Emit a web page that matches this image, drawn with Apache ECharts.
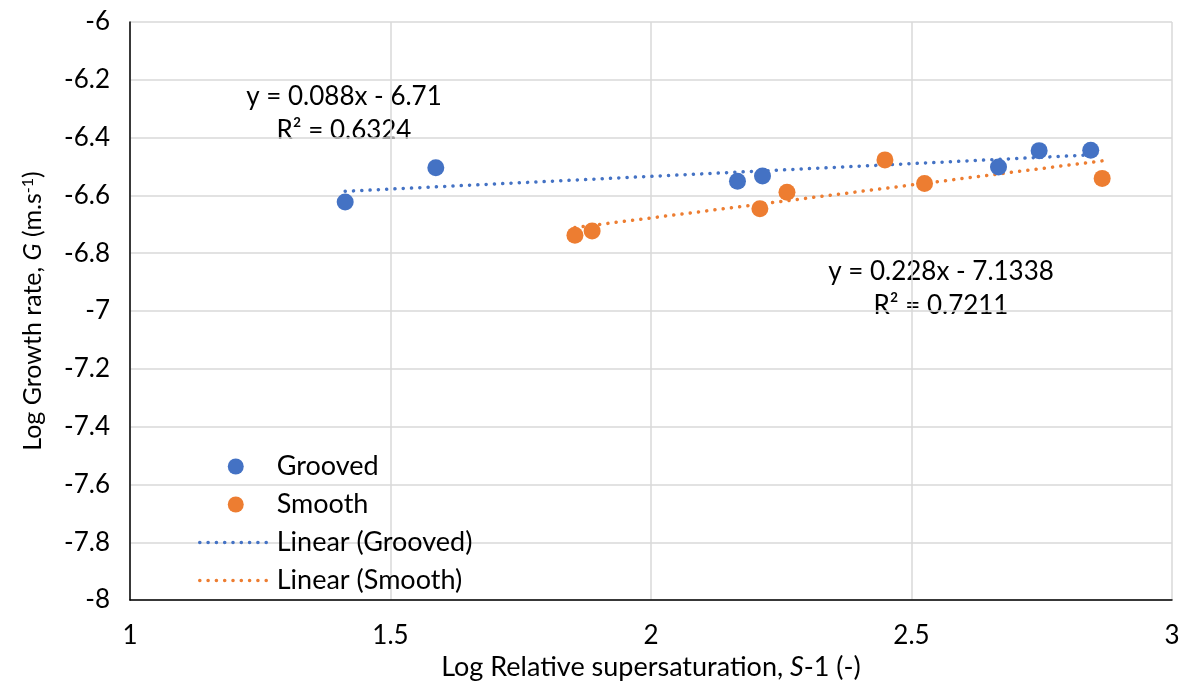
<!DOCTYPE html>
<html>
<head>
<meta charset="utf-8">
<title>Growth rate vs relative supersaturation</title>
<script src="https://cdn.jsdelivr.net/npm/echarts@6/dist/echarts.min.js"></script>
<style>
  html, body { margin: 0; padding: 0; background: #fff; }
  #chart { width: 1188px; height: 686px; }
</style>
</head>
<body>
<div id="chart"></div>
<script>
// Log relative supersaturation (x) and log growth rate (y) per surface type
const groovedX = [1.413, 1.587, 2.166, 2.214, 2.667, 2.745, 2.844];
const groovedY = [-6.623, -6.504, -6.551, -6.533, -6.502, -6.445, -6.444];
const smoothX = [1.854, 1.887, 2.209, 2.261, 2.449, 2.525, 2.866];
const smoothY = [-6.738, -6.723, -6.646, -6.589, -6.477, -6.559, -6.541];

// Linear fit coefficients shown in the equation labels
const groovedFit = { slope: 0.088, intercept: -6.71, r2: 0.6324 };
const smoothFit = { slope: 0.228, intercept: -7.1338, r2: 0.7211 };

const xTicks = { min: 1, max: 3, interval: 0.5 };
const yTicks = { min: -8, max: -6, interval: 0.2 };

const BLUE = '#4472C4';
const ORANGE = '#ED7D31';
const FONT = 'Lato';

function pairs(xs, ys) {
  return xs.map((x, i) => [x, ys[i]]);
}

// Trendline spans the range of the fitted x values
function fitLine(xs, fit) {
  const lo = Math.min(...xs), hi = Math.max(...xs);
  return [[lo, fit.slope * lo + fit.intercept], [hi, fit.slope * hi + fit.intercept]];
}

function equationText(fit) {
  const sign = fit.intercept < 0 ? '-' : '+';
  return 'y = ' + fit.slope + 'x ' + sign + ' ' + Math.abs(fit.intercept) + '\nR² = ' + fit.r2;
}

const dotted = (color) => ({ color: color, width: 3.5, type: [0.1, 8.2], cap: 'round' });

const chart = echarts.init(document.getElementById('chart'));
chart.setOption({
  animation: false,
  textStyle: { fontFamily: FONT, color: '#000' },
  grid: { left: 130, right: 16, top: 22, bottom: 84, containLabel: false },
  xAxis: {
    type: 'value',
    min: xTicks.min, max: xTicks.max, interval: xTicks.interval,
    name: 'Log Relative supersaturation, {i|S}-1 (-)',
    nameLocation: 'middle',
    nameGap: 29,
    nameTextStyle: {
      fontFamily: FONT, fontSize: 27, color: '#000',
      rich: { i: { fontFamily: FONT, fontSize: 27, fontStyle: 'italic', color: '#000' } }
    },
    axisLine: { show: true, onZero: false, lineStyle: { color: '#000', width: 1.5 } },
    axisTick: { show: false },
    axisLabel: { fontFamily: FONT, fontSize: 26, color: '#000', margin: 23 },
    splitLine: { show: true, lineStyle: { color: '#d9d9d9', width: 1.5 } }
  },
  yAxis: {
    type: 'value',
    min: yTicks.min, max: yTicks.max, interval: yTicks.interval,
    name: 'Log Growth rate, {i|G} (m.s{sup|-1})',
    nameLocation: 'middle',
    nameGap: 84,
    nameRotate: 90,
    nameTextStyle: {
      fontFamily: FONT, fontSize: 25, color: '#000',
      rich: {
        i: { fontFamily: FONT, fontSize: 25, fontStyle: 'italic', color: '#000' },
        sup: { fontFamily: FONT, fontSize: 16, color: '#000', verticalAlign: 'top', padding: [0, 0, 10, 0] }
      }
    },
    axisLine: { show: true, onZero: false, lineStyle: { color: '#000', width: 1.5 } },
    axisTick: { show: false },
    axisLabel: { fontFamily: FONT, fontSize: 26, color: '#000', margin: 20 },
    splitLine: { show: true, lineStyle: { color: '#d9d9d9', width: 1.5 } }
  },
  legend: {
    orient: 'vertical',
    left: 193,
    top: 448,
    itemWidth: 72,
    itemHeight: 16,
    itemGap: 11,
    textStyle: { fontFamily: FONT, fontSize: 27, color: '#000' },
    data: [
      { name: 'Grooved', icon: 'circle' },
      { name: 'Smooth', icon: 'circle' },
      // trendline entries show only their dotted stroke
      { name: 'Linear (Grooved)', itemStyle: { opacity: 0 }, lineStyle: dotted(BLUE) },
      { name: 'Linear (Smooth)', itemStyle: { opacity: 0 }, lineStyle: dotted(ORANGE) }
    ]
  },
  series: [
    {
      name: 'Linear (Grooved)', type: 'line', data: fitLine(groovedX, groovedFit),
      symbol: 'none', lineStyle: dotted(BLUE), itemStyle: { color: BLUE }, z: 2
    },
    {
      name: 'Linear (Smooth)', type: 'line', data: fitLine(smoothX, smoothFit),
      symbol: 'none', lineStyle: dotted(ORANGE), itemStyle: { color: ORANGE }, z: 2
    },
    {
      name: 'Grooved', type: 'scatter', data: pairs(groovedX, groovedY),
      symbol: 'circle', symbolSize: 17, itemStyle: { color: BLUE, opacity: 1 }, z: 3
    },
    {
      name: 'Smooth', type: 'scatter', data: pairs(smoothX, smoothY),
      symbol: 'circle', symbolSize: 17, itemStyle: { color: ORANGE, opacity: 1 }, z: 3
    }
  ],
  graphic: [
    {
      type: 'text', x: 344, y: 80,
      style: { text: equationText(groovedFit), font: '26px ' + FONT, fill: '#000', align: 'center', lineHeight: 34 }
    },
    {
      type: 'text', x: 941, y: 255,
      style: { text: equationText(smoothFit), font: '26px ' + FONT, fill: '#000', align: 'center', lineHeight: 34 }
    }
  ]
});
</script>
</body>
</html>
